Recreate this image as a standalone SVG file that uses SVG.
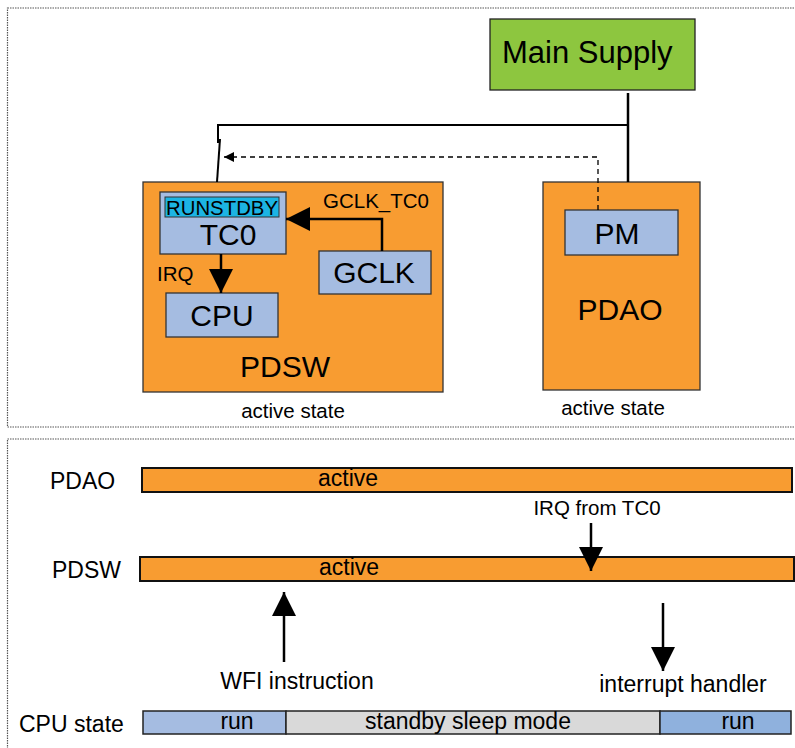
<svg xmlns="http://www.w3.org/2000/svg" width="795" height="748" viewBox="0 0 795 748">
<style>
text{font-family:"Liberation Sans",Arial,sans-serif;fill:#000}
.frame{fill:none;stroke:#555;stroke-width:1.2;stroke-dasharray:1.5 1}
.or{fill:#f89c31;stroke:#333;stroke-width:1.3}
.bl{fill:#a5bce1;stroke:#333;stroke-width:1.3}
.bar{fill:#f89c31;stroke:#111;stroke-width:2}
.w{stroke:#000;stroke-width:2.5;fill:none}
.w2{stroke:#000;stroke-width:2;fill:none}
.big{font-size:30px}
.mid{font-size:23px}
.sm{font-size:20.5px}
</style>
<defs>
<marker id="ah" viewBox="0 0 10 10" refX="10" refY="5" markerWidth="10" markerHeight="10" markerUnits="userSpaceOnUse" orient="auto">
<path d="M0,0 L10,5 L0,10 z" fill="#000"/>
</marker>
<marker id="ahb" viewBox="0 0 10 10" refX="10" refY="5" markerWidth="24" markerHeight="24" markerUnits="userSpaceOnUse" orient="auto">
<path d="M0,0 L10,5 L0,10 z" fill="#000"/>
</marker>
</defs>
<rect class="frame" x="7.5" y="8" width="800" height="419"/>
<rect class="frame" x="7.5" y="439" width="800" height="320"/>

<g id="main-supply">
<rect x="490" y="19" width="205" height="71" fill="#8dc63f" stroke="#222" stroke-width="1.3"/>
<text x="502" y="63" style="font-size:31px">Main Supply</text>
</g>
<g id="pdsw">
<rect class="or" x="143" y="182" width="300" height="210"/>
<text class="big" x="285" y="377" text-anchor="middle">PDSW</text>
<text class="sm" x="293" y="418" text-anchor="middle">active state</text>
</g>
<g id="pdao">
<rect class="or" x="543" y="182" width="157" height="208"/>
<text class="big" x="620" y="320" text-anchor="middle">PDAO</text>
<text class="sm" x="613" y="415" text-anchor="middle">active state</text>
</g>
<g id="tc0">
<rect class="bl" x="160" y="192" width="126" height="62"/>
<rect x="165" y="197" width="114" height="20" fill="#1cb4e3" stroke="#333" stroke-width="1"/>
<text x="222" y="215" text-anchor="middle" style="font-size:20px" textLength="112" lengthAdjust="spacingAndGlyphs">RUNSTDBY</text>
<text class="big" x="228" y="245" text-anchor="middle">TC0</text>
</g>
<g id="cpu">
<rect class="bl" x="166" y="293" width="112" height="44"/>
<text class="big" x="222" y="326" text-anchor="middle">CPU</text>
</g>
<g id="gclk">
<rect class="bl" x="319" y="251" width="112" height="43"/>
<text class="big" x="374" y="283" text-anchor="middle">GCLK</text>
</g>
<g id="pm">
<rect class="bl" x="565" y="210" width="113" height="45"/>
<text class="big" x="617" y="244" text-anchor="middle">PM</text>
</g>

<g id="timeline">
<text class="mid" x="50" y="489">PDAO</text>
<rect class="bar" x="142" y="468" width="650" height="24"/>
<text class="mid" x="348" y="486" text-anchor="middle">active</text>
<text class="mid" x="52" y="578">PDSW</text>
<rect class="bar" x="140" y="557" width="654" height="24"/>
<text class="mid" x="349" y="575" text-anchor="middle">active</text>
<text class="mid" x="19" y="732">CPU state</text>
<rect x="143" y="711" width="143" height="23" fill="#a5bce1" stroke="#222" stroke-width="1.5"/>
<rect x="286" y="711" width="374" height="23" fill="#d9d9d9" stroke="#222" stroke-width="1.5"/>
<rect x="660" y="711" width="131" height="23" fill="#8fb1dd" stroke="#222" stroke-width="1.5"/>
<text class="mid" x="237" y="729" text-anchor="middle">run</text>
<text class="mid" x="468" y="729" text-anchor="middle">standby sleep mode</text>
<text class="mid" x="738" y="729" text-anchor="middle">run</text>
</g>

<g id="connectors">
<path class="w" d="M628,93 V182"/>
<path class="w2" d="M628,125 H218 V143"/>
<path class="w2" d="M220,139 L217,182"/>
<path d="M598,210 V157 H224" fill="none" stroke="#000" stroke-width="1.3" stroke-dasharray="5 4" marker-end="url(#ah)"/>
<path class="w" d="M221,254 V293" marker-end="url(#ahb)"/>
<path class="w" d="M382,251 V219 H286" marker-end="url(#ahb)"/>
<path class="w" d="M591,523 V571" marker-end="url(#ahb)"/>
<path class="w" d="M284,662 V592" marker-end="url(#ahb)"/>
<path class="w" d="M663,603 V671" marker-end="url(#ahb)"/>
</g>

<g id="labels">
<text class="sm" x="157" y="281">IRQ</text>
<text class="sm" x="323" y="208">GCLK_TC0</text>
<text class="sm" x="597" y="515" text-anchor="middle">IRQ from TC0</text>
<text class="mid" x="297" y="689" text-anchor="middle">WFI instruction</text>
<text class="mid" x="683" y="692" text-anchor="middle">interrupt handler</text>
</g>
</svg>
